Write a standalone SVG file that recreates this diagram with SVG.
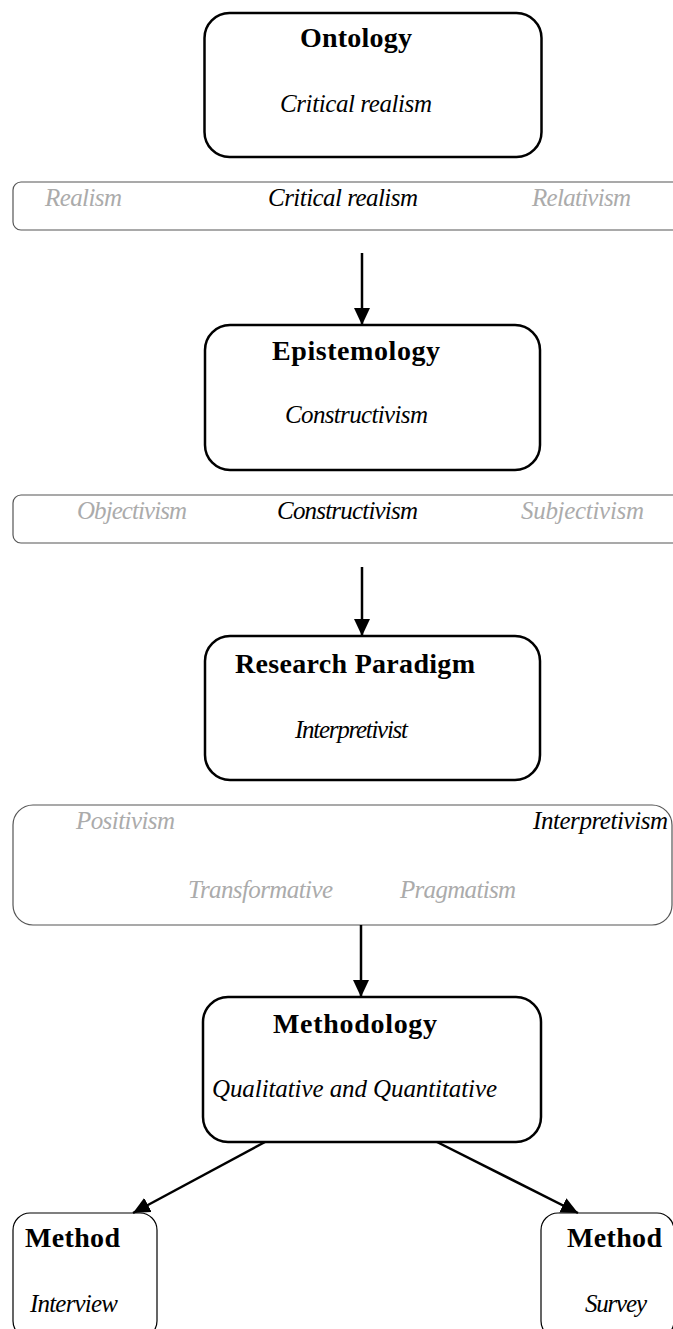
<svg xmlns="http://www.w3.org/2000/svg" width="673" height="1329" viewBox="0 0 673 1329">
  <defs>
    <marker id="arrow" markerUnits="userSpaceOnUse" markerWidth="17" markerHeight="16" refX="17" refY="8" orient="auto">
      <path d="M0,0 L17,8 L0,16 z" fill="#000"/>
    </marker>
    <style>
      .box { fill: #fff; stroke: #000; stroke-width: 2.5; }
      .bar { fill: #fff; stroke: #555; stroke-width: 1.2; }
      .mbox { fill: #fff; stroke: #000; stroke-width: 1.2; }
      .hd { font-family: "Liberation Serif", serif; font-weight: bold; font-size: 28px; fill: #000; text-anchor: middle; }
      .it { font-family: "Liberation Serif", serif; font-style: italic; font-size: 25px; fill: #000; text-anchor: middle; }
      .gr { fill: #ababab; }
      .conn { stroke: #000; stroke-width: 2.5; fill: none; marker-end: url(#arrow); }
    </style>
  </defs>
  <rect width="673" height="1329" fill="#fff"/>

  <g id="ontology">
    <rect class="box" x="204.5" y="13" width="337" height="144" rx="25"/>
    <text class="hd" x="356" y="47" textLength="112">Ontology</text>
    <text class="it" x="356" y="112" textLength="152">Critical realism</text>
  </g>

  <g id="ontology-scale">
    <rect class="bar" x="13" y="182" width="690" height="48" rx="8"/>
    <text class="it gr" x="83.5" y="206" textLength="77">Realism</text>
    <text class="it" x="343" y="206" textLength="150">Critical realism</text>
    <text class="it gr" x="581.5" y="206" textLength="99">Relativism</text>
  </g>

  <g id="epistemology">
    <rect class="box" x="205" y="325" width="335" height="145" rx="25"/>
    <text class="hd" x="356" y="360" textLength="168">Epistemology</text>
    <text class="it" x="356.5" y="423" textLength="143">Constructivism</text>
  </g>

  <g id="epistemology-scale">
    <rect class="bar" x="13" y="495" width="690" height="48" rx="8"/>
    <text class="it gr" x="132" y="519" textLength="110">Objectivism</text>
    <text class="it" x="347.5" y="519" textLength="141">Constructivism</text>
    <text class="it gr" x="582.5" y="519" textLength="123">Subjectivism</text>
  </g>

  <g id="paradigm">
    <rect class="box" x="205" y="636" width="335" height="144" rx="25"/>
    <text class="hd" x="355" y="673" textLength="240">Research Paradigm</text>
    <text class="it" x="351.5" y="738" textLength="113">Interpretivist</text>
  </g>

  <g id="paradigm-scale">
    <rect class="bar" x="13" y="805" width="659" height="120" rx="20"/>
    <text class="it gr" x="125.5" y="829" textLength="99">Positivism</text>
    <text class="it" x="600.5" y="829" textLength="135">Interpretivism</text>
    <text class="it gr" x="260.5" y="898" textLength="145">Transformative</text>
    <text class="it gr" x="458" y="898" textLength="116">Pragmatism</text>
  </g>

  <g id="methodology">
    <rect class="box" x="203" y="997" width="338" height="145" rx="25"/>
    <text class="hd" x="355" y="1033" textLength="164">Methodology</text>
    <text class="it" x="354.5" y="1097" textLength="285">Qualitative and Quantitative</text>
  </g>

  <g id="method-interview">
    <rect class="mbox" x="13" y="1213" width="144" height="125" rx="17"/>
    <text class="hd" x="72.5" y="1247" textLength="95">Method</text>
    <text class="it" x="74" y="1312" textLength="88">Interview</text>
  </g>

  <g id="method-survey">
    <rect class="mbox" x="541" y="1213" width="133" height="125" rx="17"/>
    <text class="hd" x="614.5" y="1247" textLength="95">Method</text>
    <text class="it" x="616" y="1312" textLength="62">Survey</text>
  </g>

  <g id="connectors">
    <line class="conn" x1="362" y1="253" x2="362" y2="325"/>
    <line class="conn" x1="362" y1="567" x2="362" y2="636"/>
    <line class="conn" x1="361" y1="925" x2="361" y2="997"/>
    <line class="conn" x1="265" y1="1142" x2="133" y2="1213"/>
    <line class="conn" x1="437" y1="1142" x2="578" y2="1213"/>
  </g>
</svg>
